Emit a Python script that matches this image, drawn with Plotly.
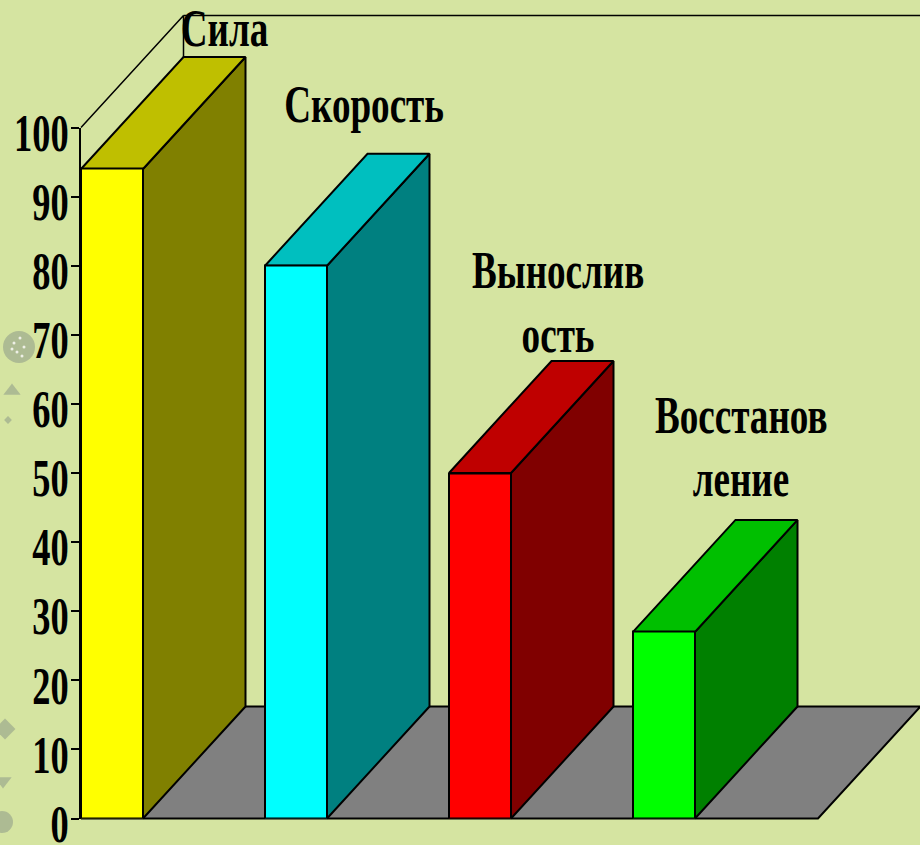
import plotly.graph_objects as go

categories = ["Сила", "Скорость", "Выносливость", "Восстановление"]
values = [94, 80, 50, 27]
label_lines = [["Сила"], ["Скорость"], ["Вынослив", "ость"], ["Восстанов", "ление"]]
tick_vals = [0, 10, 20, 30, 40, 50, 60, 70, 80, 90, 100]

front = ["#ffff00", "#00ffff", "#ff0000", "#00ff00"]
top = ["#bfbf00", "#00bfbf", "#bf0000", "#00bf00"]
side = ["#808000", "#008080", "#800000", "#008000"]
BG = "#d5e4a1"
FLOOR = "#808080"

# scales (pixels of the 920x845 picture)
W, H = 920, 845
PX_UNIT_X = 184.0
PX_UNIT_Y = 6.91
X0_PX = 112.0
Y0_PX = 818.5
LEFT_PX = 81.0

def xr(px):
    return (px - X0_PX) / PX_UNIT_X

def yr(px):
    return (Y0_PX - px) / PX_UNIT_Y

BAR_W = 62 / PX_UNIT_X
DX = 102.5 / PX_UNIT_X
DY = 112.0 / PX_UNIT_Y
xL = -BAR_W / 2
FLOOR_R = xr(818)
INK = dict(color="#000000", width=2)

fig = go.Figure()

# faint background ornament at the left edge
orn_x = [19, 12, 5, 3, 2, 8]
orn_y = [347, 391, 729, 781, 822, 420]
orn_size = [32, 15, 16, 15, 22, 6]
orn_sym = ["circle", "triangle-up", "diamond", "triangle-down", "circle", "diamond"]
fig.add_trace(go.Scatter(
    x=[xr(p) for p in orn_x], y=[yr(p) for p in orn_y], mode="markers",
    marker=dict(size=orn_size, symbol=orn_sym, color="#98a58c", opacity=0.65, line=dict(width=0)),
    hoverinfo="skip"))
fig.add_trace(go.Scatter(
    x=[xr(p) for p in [14, 20, 24, 17, 22, 12]], y=[yr(p) for p in [343, 338, 347, 352, 356, 349]],
    mode="markers", marker=dict(size=3, color="#eef0e6"), hoverinfo="skip"))

# floor
fig.add_trace(go.Scatter(
    x=[xL, xL + DX, FLOOR_R + DX, FLOOR_R, xL], y=[0, DY, DY, 0, 0],
    mode="lines", fill="toself", fillcolor=FLOOR, line=INK, hoverinfo="skip"))
# left wall outline, unfilled
fig.add_trace(go.Scatter(
    x=[xL, xL + DX, xL + DX, None, xL + DX, FLOOR_R + DX],
    y=[100, 100 + DY, DY, None, 100 + DY, 100 + DY],
    mode="lines", line=dict(color="#000000", width=1.5), hoverinfo="skip"))

# depth faces come from each value
for i, v in enumerate(values):
    l, r = i - BAR_W / 2, i + BAR_W / 2
    fig.add_trace(go.Scatter(
        x=[r, r + DX, r + DX, r, r], y=[0, DY, v + DY, v, 0],
        mode="lines", fill="toself", fillcolor=side[i], line=INK, hoverinfo="skip"))
    fig.add_trace(go.Scatter(
        x=[l, l + DX, r + DX, r, l], y=[v, v + DY, v + DY, v, v],
        mode="lines", fill="toself", fillcolor=top[i], line=INK, hoverinfo="skip"))

# front faces on the visible value axis
fig.add_trace(go.Bar(
    x=list(range(len(values))), y=values, width=BAR_W, xaxis="x2", yaxis="y2",
    marker=dict(color=front, line=dict(color="#000000", width=2)),
    hovertext=categories, hoverinfo="text+y"))

# category labels
label_centres = [(224, [28]), (364, [104]), (558, [270, 334]), (741, [415, 478])]
for lines, (cx, ys) in zip(label_lines, label_centres):
    for line, py in zip(lines, ys):
        fig.add_annotation(
            x=xr(cx), y=yr(py), text=line, showarrow=False, xref="x", yref="y",
            font=dict(family="Liberation Serif", size=53, color="#000000", weight=700))

fig.update_layout(
    width=W, height=H, margin=dict(l=0, r=0, t=0, b=0, autoexpand=False), autosize=False,
    paper_bgcolor=BG, plot_bgcolor="rgba(0,0,0,0)", showlegend=False, bargap=0,
    xaxis=dict(domain=[0, 1], range=[xr(0), xr(W)], visible=False, fixedrange=True),
    yaxis=dict(domain=[0, 1], range=[yr(H), yr(0)], visible=False, fixedrange=True),
    xaxis2=dict(domain=[LEFT_PX / W, 1], range=[xr(LEFT_PX), xr(W)], visible=False,
                anchor="y2", fixedrange=True),
    yaxis2=dict(domain=[(H - Y0_PX) / H, (H - Y0_PX + 100 * PX_UNIT_Y) / H], range=[0, 100],
                anchor="x2", tickvals=tick_vals, ticks="outside", ticklen=8, tickwidth=2,
                tickcolor="#000000", showline=True, linecolor="#000000", linewidth=2,
                showgrid=False, zeroline=False, ticklabelshift=5, ticklabelstandoff=-8,
                ticklabeloverflow="allow", fixedrange=True, automargin=False,
                tickfont=dict(family="Liberation Serif", size=52, color="#000000", weight=700)),
)

# page without its default margin; the reference type is condensed, so narrow the real text
post = """
document.body.style.margin='0';
document.body.style.overflow='hidden';
document.querySelectorAll('.annotation-text, .ytick text, .y2tick text').forEach(function(t){
  t.setAttribute('lengthAdjust','spacingAndGlyphs');
  t.setAttribute('textLength', t.getComputedTextLength()*0.70);
});
"""
fig.write_html("out.html", post_script=post, config=dict(displayModeBar=False))
